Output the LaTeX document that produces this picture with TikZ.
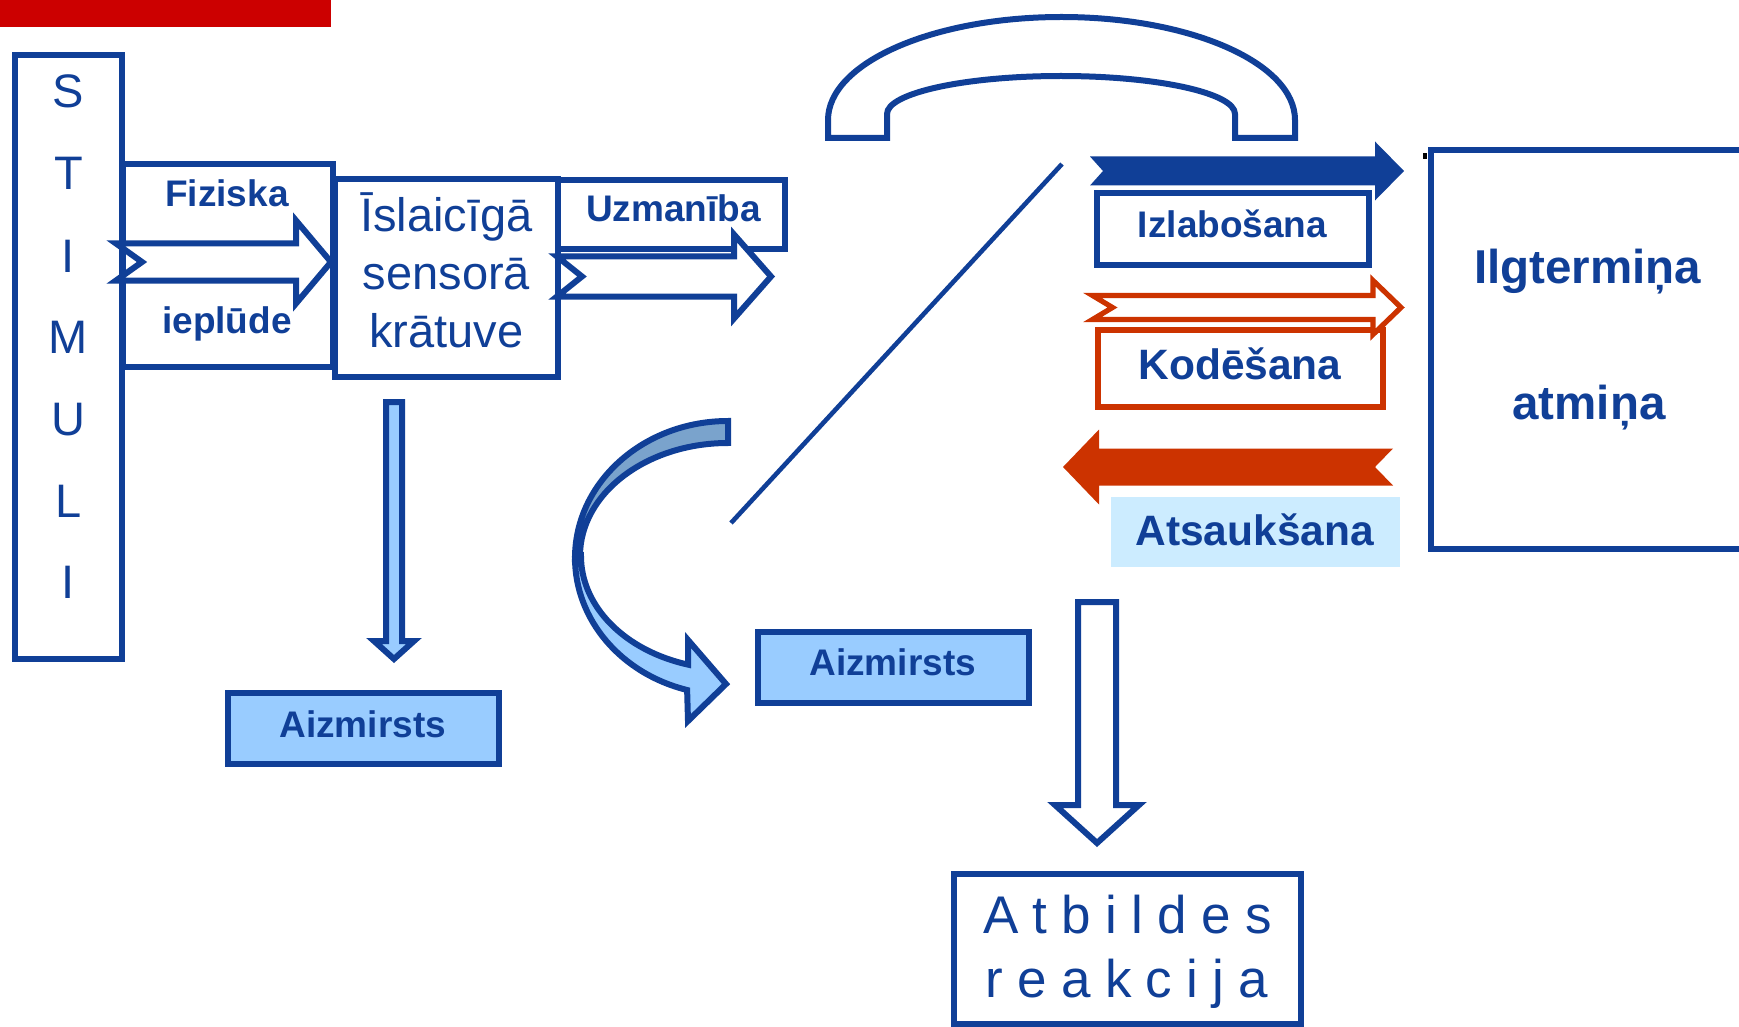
\documentclass[tikz,border=0pt]{standalone}
\usepackage{fontspec}
\setmainfont{Liberation Sans}

\definecolor{dblue}{RGB}{16,63,151}
\definecolor{redbar}{RGB}{204,0,0}
\definecolor{orng}{RGB}{204,51,0}
\definecolor{lblue}{RGB}{153,204,255}
\definecolor{sblue}{RGB}{122,163,204}
\definecolor{pblue}{RGB}{204,236,255}

% box node from two corners (centre line of the border)
\newcommand\boxnode[6]{%
  \node[#2, minimum width={(#5-(#3))*0.5pt}, minimum height={(#6-(#4))*0.5pt}]
    (#1) at ({(#3+#5)/2},{(#4+#6)/2}) {};}

% horizontal block arrow: style, tail x, tip x, centre y, shaft half, head half, head length, tail notch
\newcommand\harrow[8]{%
  \path[#1] (#2,{#4-(#5)}) -- ({#3-(#7)},{#4-(#5)}) -- ({#3-(#7)},{#4-(#6)}) -- (#3,#4)
    -- ({#3-(#7)},{#4+(#6)}) -- ({#3-(#7)},{#4+(#5)}) -- (#2,{#4+(#5)}) -- ({#2+(#8)},#4) -- cycle;}

% downward block arrow: style, centre x, top y, tip y, shaft half, head half, head length
\newcommand\varrow[7]{%
  \path[#1] ({#2-(#5)},#3) -- ({#2+(#5)},#3) -- ({#2+(#5)},{#4-(#7)}) -- ({#2+(#6)},{#4-(#7)})
    -- (#2,#4) -- ({#2-(#6)},{#4-(#7)}) -- ({#2-(#5)},{#4-(#7)}) -- cycle;}

\newcommand\ls{\hspace{7.15pt}}

\begin{document}
\begin{tikzpicture}[x=0.5pt,y=-0.5pt, line join=miter,
  bx/.style={draw=dblue, line width=3pt, fill=white, inner sep=0pt, outer sep=0pt},
  fbx/.style={bx, fill=lblue},
  obx/.style={bx, draw=orng},
  hollow/.style={draw=dblue, line width=3pt, fill=white},
  lbl/.style={anchor=base, inner sep=0pt, text=dblue},
  bsm/.style={lbl, font=\fontsize{18.5}{22}\selectfont\bfseries},
  bmd/.style={lbl, font=\fontsize{21.25}{25}\selectfont\bfseries},
  blg/.style={lbl, font=\fontsize{23.75}{28}\selectfont\bfseries},
  reg/.style={lbl, font=\fontsize{23.5}{28}\selectfont},
  wide/.style={lbl, font=\fontsize{26.5}{30}\selectfont}]

\useasboundingbox (0,0) rectangle (1739,1027);
\clip (0,0) rectangle (1739,1027);

% title bar
\fill[redbar] (0,0) rectangle (331,27.5);

% sensory stage
\boxnode{stim}{bx}{15}{55}{122}{659}
\boxnode{phys}{bx}{123}{164}{333}{367}
\boxnode{sens}{bx}{335}{179}{558}{377}
\boxnode{attn}{bx}{558}{180}{785}{249}

\harrow{hollow}{116}{331}{262}{18.5}{41.5}{35}{26}
\harrow{hollow}{557}{771}{276.5}{20}{42}{37}{25}

\varrow{hollow, fill=lblue}{394}{402}{659}{8}{20}{18}
\boxnode{forg1}{fbx}{228}{693}{499}{764}

% rehearsal loop
\path[hollow] (828,138) -- (828,120)
  arc[start angle=180, end angle=360, x radius=233.5, y radius=103]
  -- (1295,138) -- (1235,138) -- (1235,114)
  arc[start angle=0, end angle=-180, x radius=174, y radius=38]
  -- (887,138) -- cycle;
\coordinate (dlA) at (731,523);
\coordinate (dlB) at (1062,164);
\draw[dblue, line width=2.3pt] (dlA) -- (dlB);

% processes between short-term and long-term memory
\boxnode{rehe}{bx}{1097}{193}{1369}{265}
\harrow{fill=dblue}{1090}{1404}{171}{14.5}{29.5}{29}{13}
\boxnode{enco}{obx}{1098}{330}{1383}{407}
\harrow{draw=orng, fill=white, line width=2.6pt}{1092.5}{1401}{307.5}{12}{27}{28}{20}
\harrow{fill=orng}{1393}{1063}{467}{18.5}{37.5}{-36}{-18}
\node[fill=pblue, inner sep=0pt, minimum width=144.5pt, minimum height=35pt] (recl) at (1255.5,532) {};

\boxnode{ltm}{bx}{1431}{150}{1790}{549}
\fill[black] (1423,153) rectangle (1427,159);

% forgetting from short-term memory
\path[hollow, fill=sblue] (728,421)
  arc[start angle=270, end angle=180, x radius=153, y radius=137]
  -- (580,556)
  arc[start angle=180, end angle=270, x radius=148, y radius=113] -- cycle;
\path[hollow, fill=lblue] (575,558)
  arc[start angle=180, end angle=105.5, x radius=153, y radius=137]
  -- (688,721) -- (726,684) -- (688,640) -- (688,664.6)
  arc[start angle=106.08, end angle=180, x radius=148, y radius=113] -- cycle;
\boxnode{forg2}{fbx}{758}{632}{1029}{703}

% response
\varrow{hollow}{1097}{602}{843}{19}{42}{38}
\boxnode{resp}{bx}{954}{874}{1301}{1024}

% labels
\foreach \ch/\yy [count=\i] in {S/108,T/190,I/272,M/353,U/435,L/517,I/598}
  \node[reg] (stim-\i) at (68.5,\yy) {\ch};
\node[bsm] (t-fiz) at (227,207) {Fiziska};
\node[bsm] (t-iep) at (227,333) {ieplūde};
\node[reg] (t-s1) at (446.5,232) {Īslaicīgā};
\node[reg] (t-s2) at (446.5,290) {sensorā};
\node[reg] (t-s3) at (446.5,347) {krātuve};
\node[bsm] (t-uzm) at (673.5,222) {Uzmanība};
\node[bsm] (t-fo1) at (362.7,737) {Aizmirsts};
\node[bsm] (t-fo2) at (892.7,675) {Aizmirsts};
\node[bsm] (t-izl) at (1232.5,238) {Izlabošana};
\node[bmd] (t-kod) at (1240,379) {Kodēšana};
\node[bmd] (t-ats) at (1254.6,545) {Atsaukšana};
\node[blg] (t-ilg) at (1587.5,283.5) {Ilgtermiņa};
\node[blg] (t-atm) at (1589,419.5) {atmiņa};
\node[wide] (t-atb) at (1127.5,933) {A\ls t\ls b\ls i\ls l\ls d\ls e\ls s};
\node[wide] (t-rea) at (1127,997) {r\ls e\ls a\ls k\ls c\ls i\ls j\ls a};
\end{tikzpicture}
\end{document}
